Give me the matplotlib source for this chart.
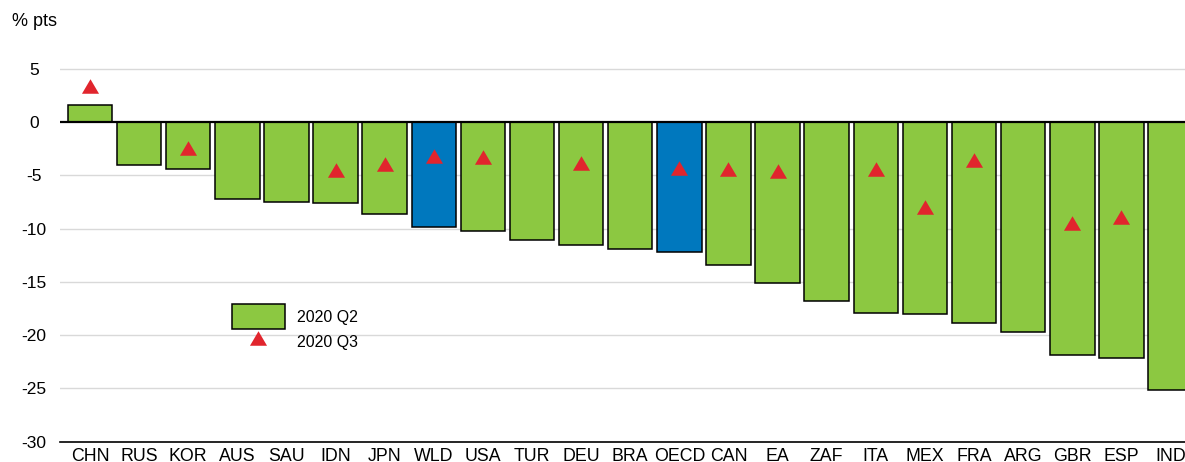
import numpy as np
import matplotlib
matplotlib.use('Agg')
import matplotlib.pyplot as plt
from matplotlib.patches import Patch
from matplotlib.lines import Line2D

plt.rcParams['font.family'] = ['Liberation Sans', 'DejaVu Sans']
plt.rcParams['axes.unicode_minus'] = False

# data
countries = ['CHN', 'RUS', 'KOR', 'AUS', 'SAU', 'IDN', 'JPN', 'WLD', 'USA', 'TUR', 'DEU', 'BRA',
             'OECD', 'CAN', 'EA', 'ZAF', 'ITA', 'MEX', 'FRA', 'ARG', 'GBR', 'ESP', 'IND']
q2_2020 = [1.6, -4.0, -4.4, -7.2, -7.5, -7.6, -8.6, -9.9, -10.2, -11.1, -11.5, -11.9,
           -12.2, -13.4, -15.1, -16.8, -17.9, -18.0, -18.9, -19.7, -21.9, -22.2, -25.2]
q3_2020 = [3.4, np.nan, -2.4, np.nan, np.nan, -4.5, -3.9, -3.2, -3.3, np.nan, -3.8, np.nan,
           -4.3, -4.4, -4.6, np.nan, -4.4, -8.0, -3.55, np.nan, -9.5, -8.9, np.nan]
highlight = ['WLD', 'OECD']

green = '#8cc841'
blue = '#0078be'
red = '#e1252d'

fig = plt.figure(figsize=(11.85, 4.62), dpi=100)
ax = fig.add_axes([60 / 1185, 20.5 / 462, 1125 / 1185, 394 / 462])

x = np.arange(len(countries))
colors = [blue if c in highlight else green for c in countries]
ax.bar(x, q2_2020, width=0.905, color=colors, edgecolor='black', linewidth=1.1, zorder=2)

# slightly flattened triangle
tri = [(-1, -0.85), (1, -0.85), (0, 0.85), (-1, -0.85)]
ax.plot(x, q3_2020, linestyle='none', marker=tri, markersize=12.3, color=red,
        markeredgewidth=0, zorder=3)

ax.axhline(0, color='black', linewidth=1.6, zorder=4)

ax.set_xlim(-0.611, 22.295)
ax.set_ylim(-30, 7)
ax.set_yticks([5, 0, -5, -10, -15, -20, -25, -30])
ax.set_xticks(x)
ax.set_xticklabels(countries)
ax.tick_params(axis='y', length=0, pad=18.7, labelsize=12.5)
ax.tick_params(axis='x', length=0, pad=4.5, labelsize=12.8)
for lab in ax.get_yticklabels():
    lab.set_horizontalalignment('center')

for v in [5, -5, -10, -15, -20, -25]:
    ax.axhline(v, color='#d9d9d9', linewidth=1, zorder=0)

for s in ['top', 'right', 'left']:
    ax.spines[s].set_visible(False)
ax.spines['bottom'].set_linewidth(1.2)
ax.spines['bottom'].set_color('black')

fig.text(12 / 1185, 1 - 22 / 462, '% pts', fontsize=13, ha='left', va='center')

handles = [Patch(facecolor=green, edgecolor='black', linewidth=1.1),
           Line2D([], [], linestyle='none', marker=tri, markersize=12.3, color=red,
                  markeredgewidth=0)]
ax.legend(handles, ['2020 Q2', '2020 Q3'], loc='upper left',
          bbox_to_anchor=(232 / 1185, 1 - 304 / 462), bbox_transform=fig.transFigure,
          frameon=False, borderpad=0, borderaxespad=0, handlelength=3.3,
          handleheight=2.03, handletextpad=0.8, labelspacing=0.0, fontsize=11.5)

fig.savefig('out.png', dpi=100)
